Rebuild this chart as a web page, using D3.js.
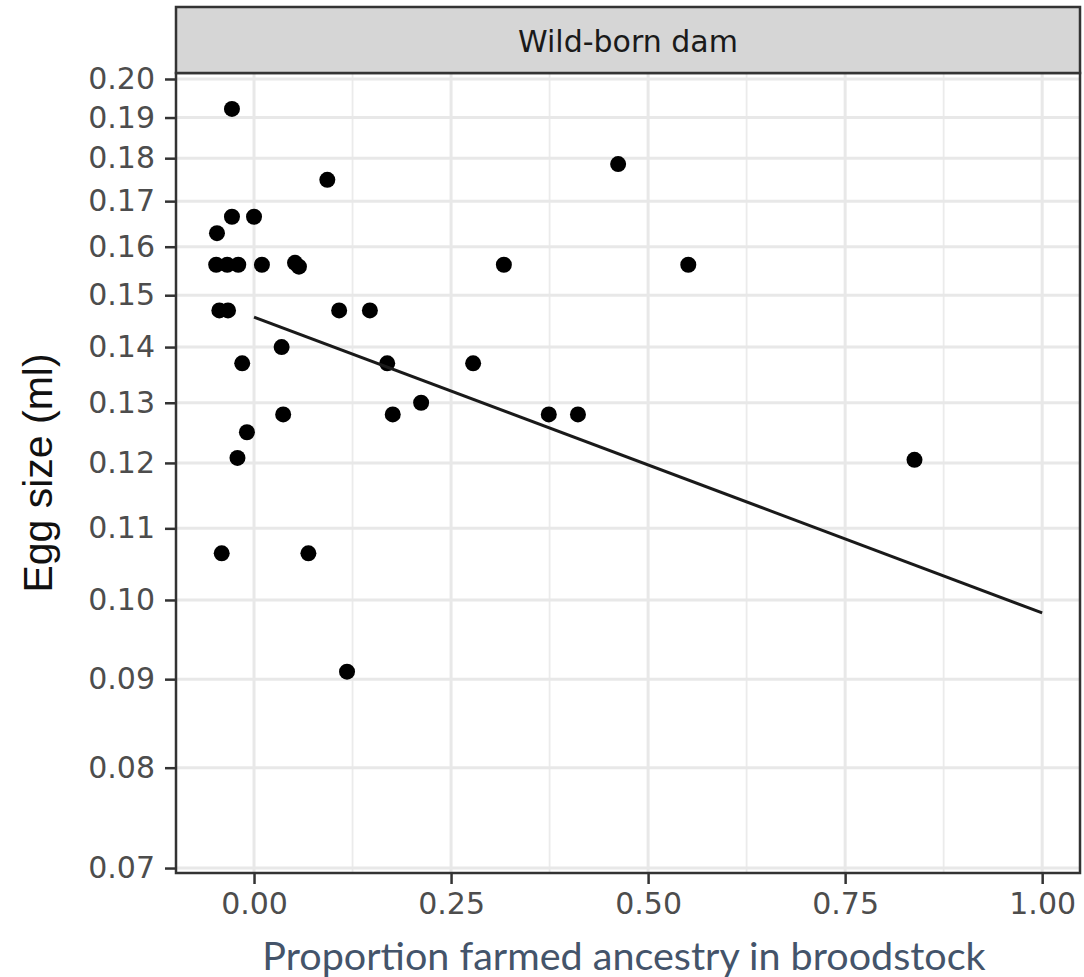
<!DOCTYPE html>
<html>
<head>
<meta charset="utf-8">
<script src="https://cdn.jsdelivr.net/npm/d3@7"></script>
<style>
  body { margin: 0; background: #fff; }
  .axis text { font-family: "DejaVu Sans", sans-serif; font-size: 30px; fill: #4d4d4d; }
  .axis line { stroke: #333; stroke-width: 2.5; }
  .axis path { display: none; }
</style>
</head>
<body>
<div id="chart-area"></div>
<script>

// SVG Size
var width = 1084,
	height = 977;

// Data
var farmedProp = [-0.028, 0.093, -0.028, 0.000, -0.047, -0.048, -0.034, -0.020, 0.010, 0.052,
	0.057, 0.317, 0.551, 0.462, -0.044, -0.033, 0.108, 0.147, 0.035, -0.015,
	0.169, 0.278, 0.212, 0.037, 0.176, 0.374, 0.411, -0.009, -0.021, 0.838,
	-0.041, 0.069, 0.118];
var eggSize = [0.1922, 0.1749, 0.1665, 0.1665, 0.1629, 0.1562, 0.1562, 0.1562, 0.1562, 0.1566,
	0.1558, 0.1562, 0.1562, 0.1786, 0.1470, 0.1470, 0.1470, 0.1470, 0.1400, 0.1370,
	0.1370, 0.1370, 0.1300, 0.1280, 0.1280, 0.1280, 0.1280, 0.1250, 0.1208, 0.1205,
	0.1064, 0.1064, 0.0909];

// fitted line (straight on the log axis)
var fitX = [0, 1];
var fitY = [0.1457, 0.0983];

var xTicks = [0, 0.25, 0.5, 0.75, 1];
var xMinor = [0.125, 0.375, 0.625, 0.875];
var yTicks = [0.07, 0.08, 0.09, 0.10, 0.11, 0.12, 0.13, 0.14, 0.15, 0.16, 0.17, 0.18, 0.19, 0.20];

var panelTitle = "Wild-born dam";

// panel box
var pLeft = 176, pRight = 1080, pTop = 73, pBottom = 873;

var data = farmedProp.map(function(d, i) {
	return { prop: d, egg: eggSize[i] };
});

var xScale = d3.scaleLinear()
	.domain([-0.099, 1.048])
	.range([pLeft, pRight]);

var yScale = d3.scaleLog()
	.domain([0.06954, 0.2016])
	.range([pBottom, pTop]);

var svg = d3.select('#chart-area')
	.append("svg")
	.attr("width", width)
	.attr("height", height);

// panel background
svg.append("rect")
	.attr("x", pLeft).attr("y", pTop)
	.attr("width", pRight - pLeft).attr("height", pBottom - pTop)
	.attr("fill", "#fff");

// grid
svg.selectAll(".grid-minor")
	.data(xMinor)
	.enter().append("line")
	.attr("class", "grid-minor")
	.attr("x1", function(d){ return xScale(d); })
	.attr("x2", function(d){ return xScale(d); })
	.attr("y1", pTop).attr("y2", pBottom)
	.attr("stroke", "#ebebeb")
	.attr("stroke-width", 1.8);

svg.selectAll(".grid-x")
	.data(xTicks)
	.enter().append("line")
	.attr("class", "grid-x")
	.attr("x1", function(d){ return xScale(d); })
	.attr("x2", function(d){ return xScale(d); })
	.attr("y1", pTop).attr("y2", pBottom)
	.attr("stroke", "#e8e8e8")
	.attr("stroke-width", 3);

svg.selectAll(".grid-y")
	.data(yTicks)
	.enter().append("line")
	.attr("class", "grid-y")
	.attr("x1", pLeft).attr("x2", pRight)
	.attr("y1", function(d){ return yScale(d); })
	.attr("y2", function(d){ return yScale(d); })
	.attr("stroke", "#e8e8e8")
	.attr("stroke-width", 3);

// points
svg.selectAll("circle")
	.data(data)
	.enter()
	.append("circle")
	.attr("cx", function(d){ return xScale(d.prop); })
	.attr("cy", function(d){ return yScale(d.egg); })
	.attr("r", 8)
	.attr("fill", "#000");

// fitted line
var line = d3.line()
	.x(function(d){ return xScale(d[0]); })
	.y(function(d){ return yScale(d[1]); });

svg.append("path")
	.datum(fitX.map(function(d, i){ return [d, fitY[i]]; }))
	.attr("d", line)
	.attr("fill", "none")
	.attr("stroke", "#1a1a1a")
	.attr("stroke-width", 3);

// panel border
svg.append("rect")
	.attr("x", pLeft).attr("y", pTop)
	.attr("width", pRight - pLeft).attr("height", pBottom - pTop)
	.attr("fill", "none")
	.attr("stroke", "#333")
	.attr("stroke-width", 2.5);

// strip
svg.append("rect")
	.attr("x", pLeft).attr("y", 7)
	.attr("width", pRight - pLeft).attr("height", pTop - 7)
	.attr("fill", "#d6d6d6")
	.attr("stroke", "#333")
	.attr("stroke-width", 2.5);

svg.append("text")
	.attr("x", (pLeft + pRight) / 2)
	.attr("y", 52)
	.attr("text-anchor", "middle")
	.attr("font-family", "DejaVu Sans, sans-serif")
	.attr("font-size", 30)
	.attr("fill", "#1a1a1a")
	.text(panelTitle);

// axes
var xAxis = d3.axisBottom(xScale)
	.tickValues(xTicks)
	.tickFormat(d3.format(".2f"))
	.tickSize(11)
	.tickPadding(9);

var yAxis = d3.axisLeft(yScale)
	.tickValues(yTicks)
	.tickFormat(d3.format(".2f"))
	.tickSize(11)
	.tickPadding(10);

svg.append("g")
	.attr("class", "axis x-axis")
	.attr("transform", "translate(0," + pBottom + ")")
	.call(xAxis);

svg.append("g")
	.attr("class", "axis y-axis")
	.attr("transform", "translate(" + pLeft + ",0)")
	.call(yAxis);

// y label
svg.append("text")
	.attr("text-anchor", "middle")
	.attr("transform", "translate(52,473) rotate(-90)")
	.attr("font-family", "Liberation Sans, Arial, sans-serif")
	.attr("font-size", 41)
	.attr("fill", "#111")
	.text("Egg size (ml)");

// x label
svg.append("text")
	.attr("text-anchor", "middle")
	.attr("x", 624)
	.attr("y", 970)
	.attr("font-family", "Lato, sans-serif")
	.attr("font-size", 39.5)
	.attr("fill", "#44546a")
	.text("Proportion farmed ancestry in broodstock");

</script>
</body>
</html>
